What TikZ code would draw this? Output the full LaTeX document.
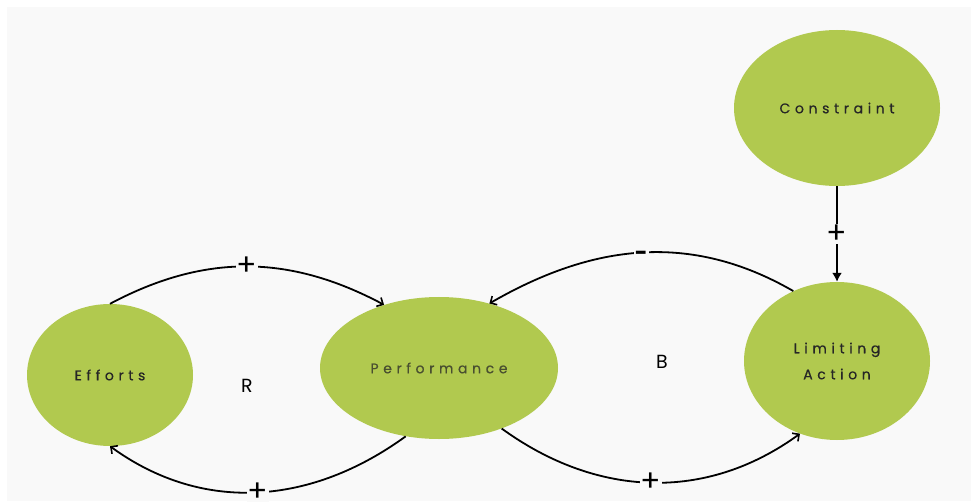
\documentclass[tikz,border=0pt]{standalone}
\usepackage{fontspec}
\setmainfont{Poppins}
\newfontfamily\lblfont[LetterSpace=33,FakeBold=0.5]{Poppins}
\usetikzlibrary{shapes.geometric,positioning,arrows.meta}
\definecolor{leaf}{HTML}{B1C94F}
\definecolor{paper}{HTML}{F9F9F9}
\definecolor{ink}{HTML}{262626}

\begin{document}
\begin{tikzpicture}[x=1pt,y=1pt,on grid,>={Straight Barb[length=5pt,width=10pt,line width=1.6pt]},
  var/.style={ellipse,fill=leaf,inner sep=0pt,text=ink,align=center,
    font=\lblfont\fontsize{14}{26}\selectfont},
  sign/.style={fill=paper,inner sep=1pt,font=\fontsize{30}{30}\selectfont},
  loopname/.style={font=\fontsize{19}{19}\selectfont}] 
\useasboundingbox (0,0) rectangle (971,501);
\fill[paper] (7,0) rectangle (971,494);

\node[var,minimum width=166pt,minimum height=142pt] (effort) at (110,126) {Efforts};
\node[var,minimum width=238pt,minimum height=142pt] (perf) [above right=7pt and 329pt of effort] {\color{ink!75!leaf}Performance};
\node[var,minimum width=186pt,minimum height=158pt] (limit) [above right=7pt and 398pt of perf] {Limiting\\Action};
\node[var,minimum width=206pt,minimum height=156pt] (constr) [above=253pt of limit] {Constraint};

\node[loopname] (loop_r) [below right=11pt and 137pt of effort] {R};
\node[loopname] (loop_b) [above right=6pt and 223pt of perf] {B};

\path[->,line width=1.8pt]
(effort.north) edge [out=28,in=152] node[sign] {+} (perf.131)
(perf.244) edge [out=216,in=324] node[sign] {+} (effort.south)

(limit.122) edge [out=150,in=30] node[sign,yshift=-3pt,font=\bfseries\fontsize{22}{22}\selectfont] {-} (perf.52)
(perf.-44) edge [out=-36,in=216] node[sign] {+} (limit.243)

(constr) edge [-{Latex[length=9pt,width=10pt]}] node[sign] {+} (limit)
; %end path
\end{tikzpicture}
\end{document}
